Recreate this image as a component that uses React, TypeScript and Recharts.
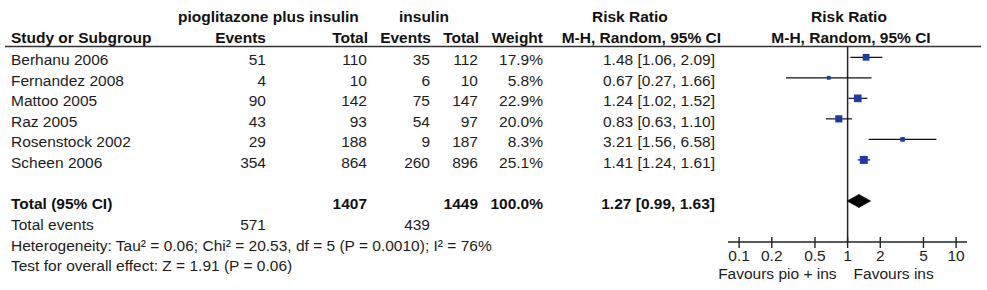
import React from 'react';
import { ComposedChart, XAxis, YAxis, Scatter, ReferenceLine } from 'recharts';

// per-study data
const studies = ['Berhanu 2006', 'Fernandez 2008', 'Mattoo 2005', 'Raz 2005', 'Rosenstock 2002', 'Scheen 2006'];
const pioEvents = [51, 4, 90, 43, 29, 354];
const pioTotal = [110, 10, 142, 93, 188, 864];
const insEvents = [35, 6, 75, 54, 9, 260];
const insTotal = [112, 10, 147, 97, 187, 896];
const weights = [17.9, 5.8, 22.9, 20.0, 8.3, 25.1];
const riskRatio = [1.48, 0.67, 1.24, 0.83, 3.21, 1.41];
const ciLow = [1.06, 0.27, 1.02, 0.63, 1.56, 1.24];
const ciHigh = [2.09, 1.66, 1.52, 1.10, 6.58, 1.61];

// pooled result
const pooledTotals = { pio: 1407, ins: 1449, weight: 100.0 };
const pooledEvents = { pio: 571, ins: 439 };
const pooledRR = [1.27, 0.99, 1.63];

const axisTicks = [0.1, 0.2, 0.5, 1, 2, 5, 10];
const favoursLeft = 'Favours pio + ins';
const favoursRight = 'Favours ins';
const heterogeneity = 'Heterogeneity: Tau² = 0.06; Chi² = 20.53, df = 5 (P = 0.0010); I² = 76%';
const overallEffect = 'Test for overall effect: Z = 1.91 (P = 0.06)';

const W = 987;
const H = 290;
const FONT = 'Arial, "Liberation Sans", Helvetica, sans-serif';
const FS = 15.5;
const INK = '#1c1c1c';
const BOX = '#1a3ca6';
const TOTAL_ROW = 7;
const rowTicks = [0, 1, 2, 3, 4, 5, TOTAL_ROW];

// right edges of the numeric columns (name column is left aligned)
const COL = { name: 11, pioEvents: 266, pioTotal: 367, insEvents: 430, insTotal: 478, weight: 543, rr: 715 };

const fmtRR = (rr: number, lo: number, hi: number) => `${rr.toFixed(2)} [${lo.toFixed(2)}, ${hi.toFixed(2)}]`;

const studyPoints = studies.map((name, i) => ({ name, row: i, rr: riskRatio[i], weight: weights[i] }));

function TableRow(props: any) {
  const { y, payload } = props;
  const row = payload.value as number;
  const by = y + 8;
  if (row === TOTAL_ROW) {
    return (
      <g fontFamily={FONT} fontSize={FS} fontWeight={700} fill="#111">
        <text x={COL.name} y={by}>Total (95% CI)</text>
        <text x={COL.pioTotal} y={by} textAnchor="end">{pooledTotals.pio}</text>
        <text x={COL.insTotal} y={by} textAnchor="end">{pooledTotals.ins}</text>
        <text x={COL.weight} y={by} textAnchor="end">{pooledTotals.weight.toFixed(1)}%</text>
        <text x={COL.rr} y={by} textAnchor="end">{fmtRR(pooledRR[0], pooledRR[1], pooledRR[2])}</text>
      </g>
    );
  }
  const i = row;
  return (
    <g fontFamily={FONT} fontSize={FS} fill={INK}>
      <text x={COL.name} y={by}>{studies[i]}</text>
      <text x={COL.pioEvents} y={by} textAnchor="end">{pioEvents[i]}</text>
      <text x={COL.pioTotal} y={by} textAnchor="end">{pioTotal[i]}</text>
      <text x={COL.insEvents} y={by} textAnchor="end">{insEvents[i]}</text>
      <text x={COL.insTotal} y={by} textAnchor="end">{insTotal[i]}</text>
      <text x={COL.weight} y={by} textAnchor="end">{weights[i].toFixed(1)}%</text>
      <text x={COL.rr} y={by} textAnchor="end">{fmtRR(riskRatio[i], ciLow[i], ciHigh[i])}</text>
    </g>
  );
}

function LogTick(props: any) {
  const { x, y, payload } = props;
  return (
    <g>
      <line x1={x} x2={x} y1={y - 5} y2={y + 6} stroke="#222" strokeWidth={1.4} />
      <text x={x} y={y + 19} textAnchor="middle" fontFamily={FONT} fontSize={FS} fill={INK}>
        {String(payload.value)}
      </text>
    </g>
  );
}

function FavoursLabel(props: any) {
  const { viewBox } = props;
  const x = viewBox.x;
  const base = viewBox.y + viewBox.height + 37;
  return (
    <g fontFamily={FONT} fontSize={FS} fill={INK}>
      <text x={x - 11} y={base} textAnchor="end">{favoursLeft}</text>
      <text x={x + 6} y={base}>{favoursRight}</text>
    </g>
  );
}

// weight-scaled study box
function StudyBox(props: any) {
  const { cx, cy, payload } = props;
  const s = 1.6 * Math.sqrt(payload.weight);
  return <rect x={cx - s / 2} y={cy - s / 2} width={s} height={s} fill={BOX} />;
}

// diamond halves for the pooled estimate
const DIAMOND_H = 6.5;
function DiamondLeft(props: any) {
  const { x1, y1, x2, y2 } = props;
  return <polygon points={`${x1},${y1} ${x2},${y2 - DIAMOND_H} ${x2},${y2 + DIAMOND_H}`} fill="#000" stroke="#000" strokeWidth={0.6} />;
}
function DiamondRight(props: any) {
  const { x1, y1, x2, y2 } = props;
  return <polygon points={`${x1},${y1 - DIAMOND_H} ${x2},${y2} ${x1},${y1 + DIAMOND_H}`} fill="#000" stroke="#000" strokeWidth={0.6} />;
}

export default function App() {
  return (
    <div style={{ position: 'absolute', left: 0, top: 0, width: W, height: H, background: '#fff' }}>
      <ComposedChart width={W} height={H} margin={{ top: 46, right: 20, bottom: 0, left: 727 }} data={studyPoints}>
        <XAxis
          dataKey="rr"
          type="number"
          scale="log"
          domain={[0.079, 12.6]}
          allowDataOverflow
          ticks={axisTicks}
          interval={0}
          height={48}
          tickSize={0}
          tickMargin={0}
          tickLine={false}
          axisLine={{ stroke: '#222', strokeWidth: 1.5 }}
          tick={<LogTick />}
        />
        <YAxis
          dataKey="row"
          type="number"
          domain={[-0.55, 9]}
          reversed
          allowDataOverflow
          ticks={rowTicks}
          interval={0}
          width={1}
          axisLine={false}
          tickLine={false}
          tick={<TableRow />}
        />
        <ReferenceLine x={1} stroke="#222" strokeWidth={1.5} label={<FavoursLabel />} />
        {studies.map((name, i) => (
          <ReferenceLine
            key={name}
            segment={[{ x: ciLow[i], y: i }, { x: ciHigh[i], y: i }]}
            stroke="#111"
            strokeWidth={1.2}
          />
        ))}
        <ReferenceLine segment={[{ x: pooledRR[1], y: TOTAL_ROW }, { x: pooledRR[0], y: TOTAL_ROW }]} shape={DiamondLeft} />
        <ReferenceLine segment={[{ x: pooledRR[0], y: TOTAL_ROW }, { x: pooledRR[2], y: TOTAL_ROW }]} shape={DiamondRight} />
        <Scatter data={studyPoints} dataKey="row" shape={StudyBox} isAnimationActive={false} />
      </ComposedChart>

      <svg width={W} height={H} style={{ position: 'absolute', left: 0, top: 0, pointerEvents: 'none' }}>
        <g fontFamily={FONT} fontSize={FS} fontWeight={700} fill="#111">
          <text x={178} y={22}>pioglitazone plus insulin</text>
          <text x={399} y={22}>insulin</text>
          <text x={592} y={22}>Risk Ratio</text>
          <text x={849} y={22} textAnchor="middle">Risk Ratio</text>
          <text x={COL.name} y={43}>Study or Subgroup</text>
          <text x={COL.pioEvents} y={43} textAnchor="end">Events</text>
          <text x={COL.pioTotal + 1} y={43} textAnchor="end">Total</text>
          <text x={COL.insEvents + 1} y={43} textAnchor="end">Events</text>
          <text x={COL.insTotal + 1} y={43} textAnchor="end">Total</text>
          <text x={COL.weight} y={43} textAnchor="end">Weight</text>
          <text x={721} y={43} textAnchor="end">M-H, Random, 95% CI</text>
          <text x={851} y={43} textAnchor="middle">M-H, Random, 95% CI</text>
        </g>
        <line x1={5} x2={981} y1={46.5} y2={46.5} stroke="#333" strokeWidth={1.5} />
        <g fontFamily={FONT} fontSize={FS} fill={INK}>
          <text x={COL.name} y={230}>Total events</text>
          <text x={COL.pioEvents} y={230} textAnchor="end">{pooledEvents.pio}</text>
          <text x={COL.insEvents} y={230} textAnchor="end">{pooledEvents.ins}</text>
          <text x={COL.name} y={251}>{heterogeneity}</text>
          <text x={COL.name} y={271}>{overallEffect}</text>
        </g>
      </svg>
    </div>
  );
}
